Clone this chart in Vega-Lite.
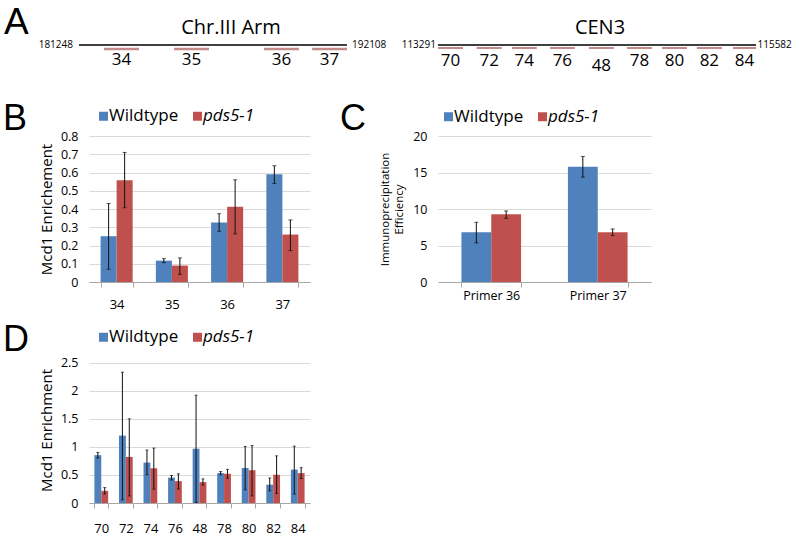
{
  "$schema": "https://vega.github.io/schema/vega-lite/v6.json",
  "padding": {"left": 3, "top": 3, "right": 0, "bottom": 0},
  "background": "white",
  "config": {
    "font": "Open Sans",
    "view": {"stroke": null},
    "axis": {"labelFont": "Open Sans", "titleFont": "Open Sans", "labelColor": "#000", "titleColor": "#000", "titleFontWeight": "normal"},
    "title": {"font": "Liberation Sans", "fontWeight": "normal", "color": "#000", "offset": 0},
    "legend": {"labelFont": "Open Sans", "labelColor": "#000"}
  },
  "datasets": {
    "arm": [
      {"kind": "chrom", "label": "Chr.III Arm", "start": 181248, "end": 192108, "mid": 186678},
      {"kind": "primer", "label": "34", "start": 182260, "end": 183680, "mid": 182970},
      {"kind": "primer", "label": "35", "start": 185100, "end": 186515, "mid": 185808},
      {"kind": "primer", "label": "36", "start": 188745, "end": 190160, "mid": 189453},
      {"kind": "primer", "label": "37", "start": 190695, "end": 192108, "mid": 191400}
    ],
    "cen": [
      {"kind": "chrom", "label": "CEN3", "start": 113291, "end": 115582, "mid": 114436},
      {"kind": "primer", "label": "70", "start": 113291, "end": 113471, "mid": 113381},
      {"kind": "primer", "label": "72", "start": 113570, "end": 113750, "mid": 113660},
      {"kind": "primer", "label": "74", "start": 113823, "end": 114003, "mid": 113913},
      {"kind": "primer", "label": "76", "start": 114097, "end": 114277, "mid": 114187},
      {"kind": "primer", "label": "48", "start": 114378, "end": 114558, "mid": 114468},
      {"kind": "primer", "label": "78", "start": 114652, "end": 114832, "mid": 114742},
      {"kind": "primer", "label": "80", "start": 114904, "end": 115084, "mid": 114994},
      {"kind": "primer", "label": "82", "start": 115156, "end": 115336, "mid": 115246},
      {"kind": "primer", "label": "84", "start": 115416, "end": 115582, "mid": 115499}
    ],
    "b": [
      {"primer": "34", "strain": "Wildtype", "value": 0.251, "lo": 0.07, "hi": 0.43},
      {"primer": "34", "strain": "pds5-1", "value": 0.557, "lo": 0.407, "hi": 0.71},
      {"primer": "35", "strain": "Wildtype", "value": 0.117, "lo": 0.106, "hi": 0.128},
      {"primer": "35", "strain": "pds5-1", "value": 0.09, "lo": 0.042, "hi": 0.132},
      {"primer": "36", "strain": "Wildtype", "value": 0.326, "lo": 0.278, "hi": 0.374},
      {"primer": "36", "strain": "pds5-1", "value": 0.412, "lo": 0.264, "hi": 0.56},
      {"primer": "37", "strain": "Wildtype", "value": 0.59, "lo": 0.54, "hi": 0.637},
      {"primer": "37", "strain": "pds5-1", "value": 0.26, "lo": 0.172, "hi": 0.34}
    ],
    "c": [
      {"primer": "Primer 36", "strain": "Wildtype", "value": 6.82, "lo": 5.36, "hi": 8.18},
      {"primer": "Primer 36", "strain": "pds5-1", "value": 9.27, "lo": 8.73, "hi": 9.73},
      {"primer": "Primer 37", "strain": "Wildtype", "value": 15.8, "lo": 14.36, "hi": 17.2},
      {"primer": "Primer 37", "strain": "pds5-1", "value": 6.82, "lo": 6.36, "hi": 7.27}
    ],
    "d": [
      {"primer": "70", "strain": "Wildtype", "value": 0.852, "lo": 0.8, "hi": 0.9},
      {"primer": "70", "strain": "pds5-1", "value": 0.217, "lo": 0.16, "hi": 0.275},
      {"primer": "72", "strain": "Wildtype", "value": 1.2, "lo": 0.057, "hi": 2.33},
      {"primer": "72", "strain": "pds5-1", "value": 0.82, "lo": 0.126, "hi": 1.5},
      {"primer": "74", "strain": "Wildtype", "value": 0.72, "lo": 0.503, "hi": 0.944},
      {"primer": "74", "strain": "pds5-1", "value": 0.618, "lo": 0.246, "hi": 0.978},
      {"primer": "76", "strain": "Wildtype", "value": 0.452, "lo": 0.41, "hi": 0.49},
      {"primer": "76", "strain": "pds5-1", "value": 0.389, "lo": 0.25, "hi": 0.52},
      {"primer": "48", "strain": "Wildtype", "value": 0.967, "lo": 0.01, "hi": 1.92},
      {"primer": "48", "strain": "pds5-1", "value": 0.372, "lo": 0.32, "hi": 0.43},
      {"primer": "78", "strain": "Wildtype", "value": 0.532, "lo": 0.503, "hi": 0.56},
      {"primer": "78", "strain": "pds5-1", "value": 0.52, "lo": 0.44, "hi": 0.6},
      {"primer": "80", "strain": "Wildtype", "value": 0.624, "lo": 0.235, "hi": 1.007},
      {"primer": "80", "strain": "pds5-1", "value": 0.584, "lo": 0.126, "hi": 1.024},
      {"primer": "82", "strain": "Wildtype", "value": 0.326, "lo": 0.217, "hi": 0.446},
      {"primer": "82", "strain": "pds5-1", "value": 0.503, "lo": 0.17, "hi": 0.84},
      {"primer": "84", "strain": "Wildtype", "value": 0.595, "lo": 0.16, "hi": 1.013},
      {"primer": "84", "strain": "pds5-1", "value": 0.532, "lo": 0.435, "hi": 0.63}
    ]
  },
  "resolve": {"scale": {"color": "independent", "x": "independent", "y": "independent", "xOffset": "independent"}, "legend": {"color": "independent"}},
  "spacing": 26,
  "vconcat": [
    {
      "bounds": "flush",
      "spacing": 81,
      "resolve": {"scale": {"x": "independent"}},
      "hconcat": [
        {
          "width": 268,
          "height": 20,
          "title": {"text": "A", "anchor": "start", "frame": "group", "fontSize": 37, "baseline": "alphabetic", "dx": -85, "offset": -52.5},
          "data": {"name": "arm"},
          "layer": [
            {
              "transform": [{"filter": "datum.kind == 'chrom'"}],
              "mark": {"type": "rule", "color": "#000", "strokeWidth": 1.3, "xOffset": -10, "x2Offset": -10},
              "encoding": {
                "x": {"field": "start", "type": "quantitative", "scale": {"domain": [181248, 192108], "nice": false, "zero": false}, "axis": null},
                "x2": {"field": "end"}
              }
            },
            {
              "transform": [{"filter": "datum.kind == 'chrom'"}],
              "mark": {"type": "text", "fontSize": 20, "baseline": "alphabetic", "dy": -11, "dx": 8, "color": "#000"},
              "encoding": {
                "x": {"field": "mid", "type": "quantitative", "scale": {"domain": [181248, 192108], "nice": false, "zero": false}, "axis": null},
                "text": {"field": "label"}
              }
            },
            {
              "transform": [{"filter": "datum.kind == 'primer'"}],
              "mark": {"type": "rule", "color": "#c48b8d", "strokeWidth": 2.3, "yOffset": 4, "y2Offset": 4, "xOffset": -10, "x2Offset": -10},
              "encoding": {
                "x": {"field": "start", "type": "quantitative", "scale": {"domain": [181248, 192108], "nice": false, "zero": false}, "axis": null},
                "x2": {"field": "end"}
              }
            },
            {
              "transform": [{"filter": "datum.kind == 'primer'"}],
              "mark": {"type": "text", "fontSize": 17, "baseline": "alphabetic", "dy": 19.5, "dx": -10, "color": "#000"},
              "encoding": {
                "x": {"field": "mid", "type": "quantitative", "scale": {"domain": [181248, 192108], "nice": false, "zero": false}, "axis": null},
                "text": {"field": "label"}
              }
            },
            {
              "transform": [{"filter": "datum.kind == 'chrom'"}],
              "mark": {"type": "text", "fontSize": 10, "align": "right", "baseline": "middle", "dx": -16, "color": "#000"},
              "encoding": {
                "x": {"field": "start", "type": "quantitative", "scale": {"domain": [181248, 192108], "nice": false, "zero": false}, "axis": null},
                "text": {"field": "start", "type": "quantitative", "format": "d"}
              }
            },
            {
              "transform": [{"filter": "datum.kind == 'chrom'"}],
              "mark": {"type": "text", "fontSize": 10, "align": "left", "baseline": "middle", "dx": -5, "color": "#000"},
              "encoding": {
                "x": {"field": "end", "type": "quantitative", "scale": {"domain": [181248, 192108], "nice": false, "zero": false}, "axis": null},
                "text": {"field": "end", "type": "quantitative", "format": "d"}
              }
            }
          ]
        },
        {
          "width": 318,
          "height": 20,
          "title": {"text": "CEN3", "font": "Open Sans", "fontSize": 20, "anchor": "middle", "baseline": "alphabetic", "dx": 3, "offset": -18.5},
          "data": {"name": "cen"},
          "layer": [
            {
              "transform": [{"filter": "datum.kind == 'chrom'"}],
              "mark": {"type": "rule", "color": "#000", "strokeWidth": 1.3},
              "encoding": {
                "x": {"field": "start", "type": "quantitative", "scale": {"domain": [113291, 115582], "nice": false, "zero": false}, "axis": null},
                "x2": {"field": "end"}
              }
            },
            {
              "transform": [{"filter": "datum.kind == 'primer'"}],
              "mark": {"type": "rule", "color": "#c48b8d", "strokeWidth": 2, "yOffset": 3, "y2Offset": 3},
              "encoding": {
                "x": {"field": "start", "type": "quantitative", "scale": {"domain": [113291, 115582], "nice": false, "zero": false}, "axis": null},
                "x2": {"field": "end"}
              }
            },
            {
              "transform": [{"filter": "datum.kind == 'primer' && datum.label != '48'"}],
              "mark": {"type": "text", "fontSize": 17, "baseline": "alphabetic", "dy": 21, "color": "#000"},
              "encoding": {
                "x": {"field": "mid", "type": "quantitative", "scale": {"domain": [113291, 115582], "nice": false, "zero": false}, "axis": null},
                "text": {"field": "label"}
              }
            },
            {
              "transform": [{"filter": "datum.label == '48'"}],
              "mark": {"type": "text", "fontSize": 17, "baseline": "alphabetic", "dy": 25.5, "color": "#000"},
              "encoding": {
                "x": {"field": "mid", "type": "quantitative", "scale": {"domain": [113291, 115582], "nice": false, "zero": false}, "axis": null},
                "text": {"field": "label"}
              }
            },
            {
              "transform": [{"filter": "datum.kind == 'chrom'"}],
              "mark": {"type": "text", "fontSize": 10, "align": "right", "baseline": "middle", "dx": -2, "color": "#000"},
              "encoding": {
                "x": {"field": "start", "type": "quantitative", "scale": {"domain": [113291, 115582], "nice": false, "zero": false}, "axis": null},
                "text": {"field": "start", "type": "quantitative", "format": "d"}
              }
            },
            {
              "transform": [{"filter": "datum.kind == 'chrom'"}],
              "mark": {"type": "text", "fontSize": 10, "align": "left", "baseline": "middle", "dx": 1.5, "color": "#000"},
              "encoding": {
                "x": {"field": "end", "type": "quantitative", "scale": {"domain": [113291, 115582], "nice": false, "zero": false}, "axis": null},
                "text": {"field": "end", "type": "quantitative", "format": "d"}
              }
            }
          ]
        }
      ]
    },
    {
      "spacing": 10,
      "resolve": {"scale": {"color": "independent", "x": "independent", "y": "independent", "xOffset": "independent"}, "legend": {"color": "independent"}},
      "vconcat": [
        {
          "bounds": "flush",
          "spacing": 128,
          "resolve": {"scale": {"color": "independent", "x": "independent", "y": "independent", "xOffset": "independent"}, "legend": {"color": "independent"}},
          "hconcat": [
            {
              "width": 221,
              "height": 146,
              "title": {"text": "B", "anchor": "start", "frame": "group", "fontSize": 36, "baseline": "alphabetic", "dx": -86, "offset": -58},
              "data": {"name": "b"},
              "encoding": {
                "x": {"field": "primer", "type": "nominal", "sort": null, "scale": {"paddingInner": 0.42, "paddingOuter": 0.21},
                  "axis": {"title": null, "labelAngle": 0, "labelFontSize": 13, "domainColor": "#a6a6a6", "tickColor": "#a6a6a6", "tickBand": "extent", "tickSize": 5, "labelPadding": 11, "grid": false}},
                "xOffset": {"field": "strain", "type": "nominal", "sort": ["Wildtype", "pds5-1"]}
              },
              "layer": [
                {
                  "mark": {"type": "bar"},
                  "encoding": {
                    "y": {"field": "value", "type": "quantitative", "scale": {"domain": [0, 0.8]},
                      "axis": {"values": [0, 0.1, 0.2, 0.3, 0.4, 0.5, 0.6, 0.7, 0.8], "tickCount": 50, "format": "~g", "grid": true, "gridColor": "#d9d9d9", "domain": false, "ticks": false, "tickSize": 0, "labelPadding": 11, "labelFontSize": 12.5, "title": "Mcd1 Enrichement", "titleFontSize": 15, "titlePadding": 6}},
                    "color": {"field": "strain", "type": "nominal", "sort": ["Wildtype", "pds5-1"], "scale": {"domain": ["Wildtype", "pds5-1"], "range": ["#4f81bd", "#c0504d"]},
                      "legend": {"orient": "none", "legendX": 6, "legendY": -28.5, "direction": "horizontal", "title": null, "symbolType": "square", "symbolSize": 81, "symbolStrokeWidth": 0, "labelFontSize": 17, "labelOffset": -3, "columnPadding": 10, "padding": 0,
                        "labelFontStyle": {"expr": "datum.label == 'pds5-1' ? 'italic' : 'normal'"}}}
                  }
                },
                {
                  "mark": {"type": "rule", "color": "#111", "strokeWidth": 1},
                  "encoding": {"y": {"field": "lo", "type": "quantitative"}, "y2": {"field": "hi"}}
                },
                {
                  "mark": {"type": "tick", "orient": "horizontal", "size": 4, "thickness": 1, "color": "#111"},
                  "encoding": {"y": {"field": "lo", "type": "quantitative"}}
                },
                {
                  "mark": {"type": "tick", "orient": "horizontal", "size": 4, "thickness": 1, "color": "#111"},
                  "encoding": {"y": {"field": "hi", "type": "quantitative"}}
                }
              ]
            },
            {
              "width": 213,
              "height": 146,
              "title": {"text": "C", "anchor": "start", "frame": "group", "fontSize": 36, "baseline": "alphabetic", "dx": -98, "offset": -58},
              "data": {"name": "c"},
              "encoding": {
                "x": {"field": "primer", "type": "nominal", "sort": null, "scale": {"paddingInner": 0.44, "paddingOuter": 0.22},
                  "axis": {"title": null, "labelAngle": 0, "labelFontSize": 12.5, "domainColor": "#a6a6a6", "tickColor": "#a6a6a6", "tickBand": "extent", "tickSize": 5, "labelPadding": 2, "grid": false}},
                "xOffset": {"field": "strain", "type": "nominal", "sort": ["Wildtype", "pds5-1"]}
              },
              "layer": [
                {
                  "mark": {"type": "bar"},
                  "encoding": {
                    "y": {"field": "value", "type": "quantitative", "scale": {"domain": [0, 20]},
                      "axis": {"values": [0, 5, 10, 15, 20], "tickCount": 50, "format": "~g", "grid": true, "gridColor": "#d9d9d9", "domain": false, "ticks": false, "tickSize": 0, "labelPadding": 11, "labelFontSize": 12.5, "title": ["Immunoprecipitation", "Efficiency"], "titleFontSize": 11.5, "titleLineHeight": 14, "titlePadding": 8}},
                    "color": {"field": "strain", "type": "nominal", "sort": ["Wildtype", "pds5-1"], "scale": {"domain": ["Wildtype", "pds5-1"], "range": ["#4f81bd", "#c0504d"]},
                      "legend": {"orient": "none", "legendX": 2, "legendY": -28, "direction": "horizontal", "title": null, "symbolType": "square", "symbolSize": 81, "symbolStrokeWidth": 0, "labelFontSize": 17, "labelOffset": -3, "columnPadding": 10, "padding": 0,
                        "labelFontStyle": {"expr": "datum.label == 'pds5-1' ? 'italic' : 'normal'"}}}
                  }
                },
                {
                  "mark": {"type": "rule", "color": "#111", "strokeWidth": 1},
                  "encoding": {"y": {"field": "lo", "type": "quantitative"}, "y2": {"field": "hi"}}
                },
                {
                  "mark": {"type": "tick", "orient": "horizontal", "size": 4, "thickness": 1, "color": "#111"},
                  "encoding": {"y": {"field": "lo", "type": "quantitative"}}
                },
                {
                  "mark": {"type": "tick", "orient": "horizontal", "size": 4, "thickness": 1, "color": "#111"},
                  "encoding": {"y": {"field": "hi", "type": "quantitative"}}
                }
              ]
            }
          ]
        },
        {
          "width": 221,
          "height": 146,
          "title": {"text": "D", "anchor": "start", "frame": "group", "fontSize": 36, "baseline": "alphabetic", "dx": -86, "offset": -58},
          "data": {"name": "d"},
          "encoding": {
            "x": {"field": "primer", "type": "nominal", "sort": null, "scale": {"paddingInner": 0.44, "paddingOuter": 0.22},
              "axis": {"title": null, "labelAngle": 0, "labelFontSize": 13, "domainColor": "#a6a6a6", "tickColor": "#a6a6a6", "tickBand": "extent", "tickSize": 5, "labelPadding": 14, "grid": false}},
            "xOffset": {"field": "strain", "type": "nominal", "sort": ["Wildtype", "pds5-1"]}
          },
          "layer": [
            {
              "mark": {"type": "bar"},
              "encoding": {
                "y": {"field": "value", "type": "quantitative", "scale": {"domain": [0, 2.5]},
                  "axis": {"values": [0, 0.5, 1, 1.5, 2, 2.5], "tickCount": 50, "format": "~g", "grid": true, "gridColor": "#d9d9d9", "domain": false, "ticks": false, "tickSize": 0, "labelPadding": 11, "labelFontSize": 12.5, "title": "Mcd1 Enrichment", "titleFontSize": 15, "titlePadding": 6}},
                "color": {"field": "strain", "type": "nominal", "sort": ["Wildtype", "pds5-1"], "scale": {"domain": ["Wildtype", "pds5-1"], "range": ["#4f81bd", "#c0504d"]},
                  "legend": {"orient": "none", "legendX": 6, "legendY": -28.5, "direction": "horizontal", "title": null, "symbolType": "square", "symbolSize": 81, "symbolStrokeWidth": 0, "labelFontSize": 17, "labelOffset": -3, "columnPadding": 10, "padding": 0,
                    "labelFontStyle": {"expr": "datum.label == 'pds5-1' ? 'italic' : 'normal'"}}}
              }
            },
            {
              "mark": {"type": "rule", "color": "#111", "strokeWidth": 1},
              "encoding": {"y": {"field": "lo", "type": "quantitative"}, "y2": {"field": "hi"}}
            },
            {
              "mark": {"type": "tick", "orient": "horizontal", "size": 3, "thickness": 1, "color": "#111"},
              "encoding": {"y": {"field": "lo", "type": "quantitative"}}
            },
            {
              "mark": {"type": "tick", "orient": "horizontal", "size": 3, "thickness": 1, "color": "#111"},
              "encoding": {"y": {"field": "hi", "type": "quantitative"}}
            }
          ]
        }
      ]
    }
  ]
}
